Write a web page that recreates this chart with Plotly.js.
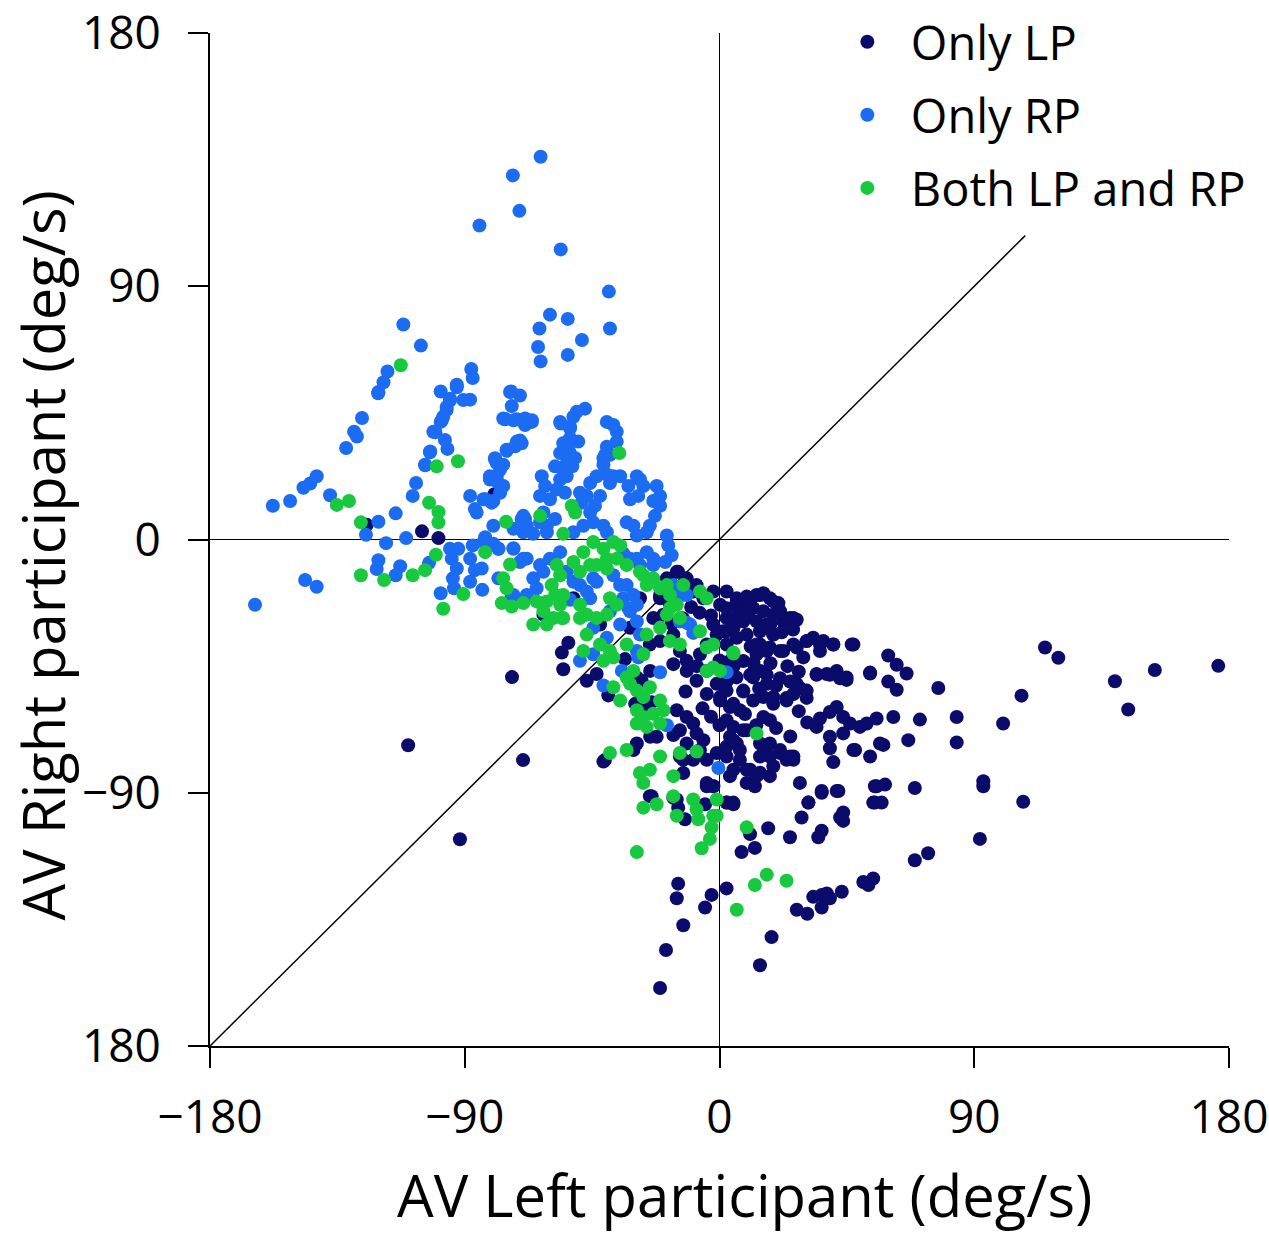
<!DOCTYPE html>
<html><head><meta charset="utf-8">
<script src="https://cdn.plot.ly/plotly-3.0.1.min.js"></script>
<style>html,body{margin:0;padding:0;background:#fff}</style>
</head><body><div id="chart" style="width:1269px;height:1240px"></div>
<script>
// ---- data: [AV left, AV right] in deg/s ----
const onlyLP = [
[-73.3,-48.9],[-110.0,-73.1],[-69.4,-78.4],[-91.7,-106.5],[-124.6,5.2],[-105.1,2.9],[-99.3,0.5],[-79.5,16.1],[-40.5,-78.4],
[-14.6,-11.5],[-11.6,-13.8],[-8.1,-16.2],[-18.6,-13.8],[-9.3,-18.5],[-51.6,-20.9],[-62.2,-26.7],[-42.2,-30.2],[-28.1,-20.9],[-21.0,-19.7],[-17.5,-23.2],[-23.4,-27.9],[-2.2,-18.5],[2.5,-18.5],[6.1,-22.0],[0.2,-23.2],[2.5,-27.9],[-2.2,-30.2],[4.9,-31.4],
[-24.0,-91.2],[-16.3,-91.8],[-14.6,-95.3],[-12.2,-99.4],[-5.1,-94.1],[-4.5,-87.7],[-2.2,-87.7],[2.5,-93.5],[4.9,-94.1],[9.6,-86.5],[12.5,-87.7],[10.8,-104.7],[7.8,-111.1],[12.5,-109.6],[17.2,-102.6],[24.9,-105.8],[29.0,-98.8],[31.4,-93.5],[36.1,-90.0],[42.0,-89.4],[36.1,-103.5],[34.9,-105.8],[42.6,-98.8],[43.7,-97.0],[43.7,-100.0],[54.9,-87.7],[58.5,-87.1],[54.3,-93.5],[57.3,-93.5],[69.0,-88.3],[69.0,-114.0],
[-14.6,-122.3],[-15.1,-127.5],[-2.8,-126.3],[-5.1,-130.8],[2.5,-124.0],[-12.8,-137.1],[-18.9,-145.9],[-21.0,-159.4],[18.4,-141.3],[14.3,-151.3],[27.3,-131.6],[31.0,-133.0],[33.1,-127.0],[36.1,-126.3],[37.9,-125.8],[39.0,-127.5],[36.1,-130.8],[43.2,-125.2],[50.8,-121.7],[54.3,-120.5],[52.6,-122.8],[73.7,-111.5],
[93.2,-85.9],[93.2,-87.7],[107.3,-93.2],[92.0,-106.4],
[6.1,-20.9],[9.6,-20.3],[13.1,-19.7],[15.5,-19.1],[17.8,-20.9],[20.8,-22.6],[24.9,-27.9],[27.3,-28.5],
[2.5,-24.4],[7.2,-24.4],[11.9,-24.4],[15.5,-25.5],[19.0,-26.7],[22.5,-29.1],[8.4,-29.1],[13.1,-29.1],[16.7,-30.2],[2.5,-32.6],[6.1,-34.9],[9.6,-33.8],[14.3,-32.6],[19.0,-33.8],
[14.3,-37.3],[17.8,-38.4],[22.5,-39.6],[27.3,-38.4],[30.8,-36.1],[33.1,-34.9],[36.7,-36.1],[40.2,-37.3],[47.3,-37.3],[29.6,-41.9],[35.5,-39.6],
[1.3,-32.6],[3.7,-43.2],[8.4,-43.2],[13.1,-40.8],[2.5,-50.5],[8.4,-54.0],[10.8,-48.1],[16.7,-48.1],[21.4,-49.3],[24.9,-50.5],[28.4,-52.8],[23.7,-56.3],[30.8,-56.3],[34.3,-48.1],[39.0,-48.1],[42.6,-49.3],[44.9,-49.9],[53.2,-47.6],[59.6,-41.2],[62.6,-44.5],[66.1,-47.6],[59.6,-50.5],[62.6,-53.4],[77.3,-52.8],[106.7,-55.5],[115.0,-38.4],[119.7,-42.0],[139.7,-50.4],[144.4,-60.4],[153.8,-46.4],[176.2,-44.9],
[0.2,-56.0],[3.7,-59.5],[7.2,-60.7],[11.9,-57.2],[15.5,-56.0],[19.0,-58.4],[15.5,-63.1],[17.8,-64.2],[2.5,-64.2],[4.9,-66.6],[9.6,-67.8],[3.7,-70.1],[6.1,-72.5],[2.5,-77.1],[7.2,-78.3],[16.7,-73.6],[17.8,-77.1],[21.4,-75.9],[24.9,-77.1],[26.1,-78.3],[10.8,-81.8],[14.3,-82.9],[17.8,-84.1],[3.7,-84.1],[11.9,-86.5],
[34.3,-66.6],[35.5,-63.6],[39.0,-61.3],[41.4,-59.5],[43.7,-63.1],[46.1,-65.4],[49.6,-66.6],[52.0,-65.4],[55.5,-63.6],[61.4,-63.1],[70.8,-64.0],[83.8,-63.1],[100.2,-65.4],[39.0,-70.1],[39.0,-74.2],[43.7,-68.9],[47.9,-74.8],[57.9,-73.0],[66.7,-71.3],[83.8,-72.1],[40.2,-79.1],
[-53.4,-36.7],[-55.7,-40.2],[-55.2,-46.1],[-46.9,-50.2],[-43.4,-47.8],[-39.3,-55.4],
[-31.6,-31.4],[-33.4,-42.5],[-29.2,-49.0],[-27.5,-50.2],[-24.5,-46.7],[-29.8,-58.4],[-26.3,-60.7],[-24.0,-57.8],
[-19.8,-26.7],[-21.0,-20.9],[-17.5,-15.0],[-15.1,-11.5],[-5.7,-20.9],
[-24.6,-37.3],[-21.0,-36.1],[-16.3,-33.8],[-14.0,-39.6],[-11.6,-43.1],[-6.9,-40.8],[-4.5,-37.3],[-1.0,-33.8],[2.5,-37.3],[4.9,-31.4],[7.2,-25.5],[10.8,-22.0],[14.3,-19.7],[19.0,-22.0],[21.4,-25.5],[26.1,-27.9],[15.5,-31.4],[19.0,-33.8],[13.1,-37.3],[16.7,-39.6],[21.4,-39.6],[26.1,-37.3],[30.8,-36.1],[35.5,-37.3],[40.2,-37.3],[46.7,-37.3],
[-16.3,-44.3],[-11.6,-46.7],[-8.1,-50.2],[-4.5,-46.7],[-1.0,-51.3],[-4.5,-54.9],[0.2,-57.2],[2.5,-53.7],[4.9,-58.4],[8.4,-53.7],[11.9,-49.0],[14.3,-46.7],[16.7,-51.3],[19.0,-56.0],[23.7,-57.2],[26.1,-54.9],[27.3,-51.3],[30.8,-53.7],[34.3,-47.8],[37.9,-47.8],[41.4,-46.7],[44.9,-49.0],[53.2,-47.3],
[-15.1,-60.7],[-11.6,-63.1],[-9.3,-65.4],[-8.1,-68.9],[-5.7,-71.3],[-14.0,-67.8],[-11.6,-72.5],[-6.9,-74.8],[-9.3,-78.3],[-12.8,-78.3],[-4.5,-78.3],[-1.0,-75.9],[2.5,-73.6],[4.9,-71.3],[8.4,-67.8],[7.2,-74.8],[14.3,-72.5],[17.8,-72.5],[21.4,-74.8],[26.1,-77.1],[23.7,-78.3],[19.0,-80.6],[14.3,-77.1],[9.6,-81.8],[4.9,-81.8],[13.1,-84.1],
[-41.0,-78.9],[-29.2,-72.5],[-30.4,-74.8],[-24.5,-70.1],[-22.2,-70.1],[-16.3,-69.5],[-14.0,-77.1],[-12.8,-83.0],[-4.5,-86.5],[-2.2,-87.7],[2.5,-93.5],[4.9,-93.5],[-24.6,-91.2],[-15.1,-92.4],
[28.4,-86.5],[31.4,-93.5],[36.1,-89.4],[41.4,-89.4],[47.3,-74.8],[53.2,-77.1],[56.7,-72.5],[55.5,-87.7],[54.9,-93.5],
[5.0,-28.0],[10.0,-27.0],[18.0,-30.0],[22.0,-33.0],[26.0,-32.0],[11.0,-38.0],[5.0,-45.0],[12.0,-44.0],[18.0,-44.0],[24.0,-45.0],[28.0,-47.0],[20.0,-52.0],[14.0,-53.0],[6.0,-49.0],[0.0,-43.0],
[-3.0,-27.0],[-7.0,-26.0],[-10.0,-24.0],[-13.0,-28.0],[-17.0,-30.0],[-8.0,-45.0],[-12.0,-54.0],[-6.0,-60.0],[0.0,-66.0],[-3.0,-63.0],[9.0,-62.0],[13.0,-66.0],[20.0,-67.0],[28.0,-61.0],[31.0,-65.0],[25.0,-70.0]
];
const onlyRP = [
[-63.2,136.0],[-73.0,129.4],[-70.7,116.8],[-84.8,111.6],[-56.1,103.1],[-39.1,88.1],[-59.9,79.9],[-53.6,78.4],[-63.6,75.0],[-38.7,75.0],[-48.6,70.9],[-64.1,68.4],[-53.6,65.6],[-63.2,63.3],
[-111.7,76.4],[-105.5,68.9],[-117.3,59.7],[-118.7,55.9],[-120.6,52.0],[-126.3,43.2],[-129.1,38.3],[-128.1,36.6],[-131.9,32.5],
[-87.7,60.6],[-87.2,57.4],[-92.8,55.0],[-98.5,52.6],[-95.2,49.5],[-90.5,49.6],[-88.1,49.7],[-96.4,46.0],[-97.6,43.6],[-98.5,41.8],[-100.4,38.1],[-97.0,35.4],[-96.1,32.2],[-102.2,31.3],[-104.0,26.6],
[-73.6,52.6],[-70.5,51.2],[-73.4,47.4],[-75.8,42.7],[-71.6,42.7],[-69.3,41.8],[-66.3,41.8],[-68.7,40.7],[-70.5,35.2],[-72.2,33.1],[-75.2,31.5],[-79.3,28.4],
[-47.5,46.5],[-50.4,45.4],[-51.6,43.6],[-56.1,41.2],[-52.8,39.5],[-49.9,34.8],[-55.0,34.0],[-53.0,31.0],[-51.0,29.0],[-54.0,27.0],[-52.0,26.0],
[-39.8,41.8],[-37.5,40.7],[-36.3,38.3],[-36.3,34.8],[-39.8,33.0],[-38.7,30.1],[-41.0,28.9],
[-164.1,-23.2],[-157.8,12.0],[-151.7,13.7],[-147.0,18.4],[-144.6,19.9],[-142.3,22.5],[-137.6,15.7],[-120.5,6.3],[-124.9,1.7],[-114.4,9.3],[-117.8,-1.3],[-110.7,0.5],[-108.4,15.5],[-107.2,20.1],[-104.0,26.4],[-102.3,31.0],
[-120.5,-7.4],[-121.1,-10.5],[-112.8,-9.5],[-114.4,-12.7],[-102.6,-8.3],[-146.4,-14.4],[-142.3,-16.8],[-98.5,-19.1],
[-95.2,-3.3],[-92.3,-3.3],[-94.6,-6.8],[-92.8,-10.3],[-94.2,-13.8],[-93.8,-17.3],[-88.1,-6.8],[-86.4,-10.9],[-88.1,-15.0],[-84.0,-10.3],[-83.8,-17.9],[-87.2,-2.1],[-83.4,-0.9],[-79.9,-1.5],[-78.1,-3.3],[-82.8,0.8],[-72.8,-3.1],[-69.3,-6.8],[-68.7,7.3],[-78.1,-13.8],[-73.4,-20.3],
[-88.1,15.5],[-86.4,10.8],[-85.8,9.6],[-83.4,14.3],[-79.9,13.7],[-81.1,21.3],[-78.7,22.5],[-77.5,24.9],[-76.4,19.0],[-78.7,27.2],[-79.3,28.9],[-75.2,31.9],[-71.6,34.8],[-69.9,34.2],[-76.4,43.0],[-72.8,42.4],[-74.0,52.4],
[-101.1,38.3],[-98.1,42.4],[-96.4,47.1],[-95.2,50.0],[-120.5,52.4],[-92.8,54.1],[-69.9,7.3],[-69.3,2.6],[-72.8,3.8],
[-75.8,42.8],[-68.7,43.0],[-66.3,42.4],[-76.4,26.6],[-81.1,22.5],[-78.1,20.1],[-77.5,16.6],[-82.8,14.3],[-80.5,13.1],
[-56.3,41.8],[-52.8,40.1],[-55.2,34.2],[-52.8,36.0],[-56.3,30.7],[-53.4,31.9],[-58.1,26.0],[-55.2,24.9],[-56.3,21.3],[-54.0,22.5],[-57.5,17.8],[-54.6,16.6],[-62.8,22.5],[-61.6,19.0],[-63.4,15.5],[-59.9,14.3],
[-40.4,30.1],[-41.0,26.6],[-39.8,23.1],[-38.7,20.1],[-37.5,22.5],[-35.1,22.5],[-32.2,19.0],[-29.2,22.5],[-28.1,21.3],[-26.9,19.0],[-28.7,15.5],[-31.6,14.3],
[-22.2,19.0],[-21.0,15.5],[-21.0,12.0],[-23.4,13.7],[-22.8,8.4],[-24.6,4.9],
[-45.7,20.1],[-43.4,22.5],[-46.9,15.5],[-44.0,12.0],[-42.2,15.5],[-45.7,9.6],[-49.3,16.6],[-48.7,13.1],
[-62.2,9.6],[-61.0,4.9],[-58.1,7.3],[-63.4,6.1],[-69.3,8.4],[-68.1,4.9],[-65.8,2.0],[-61.0,2.6],
[-79.9,4.9],[-82.2,-0.9],[-78.1,-3.3],[-72.8,-3.3],[-68.1,-6.8],[-70.5,-8.0],
[-51.6,2.6],[-48.1,4.9],[-44.6,6.1],[-41.0,4.9],[-39.8,2.6],[-32.8,6.1],[-30.4,4.9],[-29.2,1.4],[-25.7,2.6],
[-18.6,1.4],[-18.1,-2.1],[-16.9,-5.6],[-19.2,-8.0],[-25.7,-4.5],[-23.4,-6.8],[-28.1,-9.1],[-31.6,-6.8],[-16.3,-16.2],[-13.4,-19.7],
[-56.3,-4.5],[-59.9,-6.8],[-63.4,-9.1],[-62.2,-11.5],[-65.8,-13.8],[-64.6,-17.3],[-68.1,-19.7],[-72.8,-19.7],
[-54.0,-11.5],[-51.6,-15.0],[-49.3,-16.2],[-46.9,-18.5],[-43.4,-15.0],[-45.7,-20.9],
[-37.5,-12.7],[-35.1,-16.2],[-32.8,-16.2],[-34.0,-20.9],[-30.4,-19.7],[-29.2,-23.2],[-38.7,-25.5],[-31.6,-25.5],[-35.1,-30.2],[-29.2,-29.1],
[-11.6,-19.7],[-14.0,-29.1],[-10.4,-30.2],
[-0.4,-81.2],[2.5,-47.2],[-18.6,-66.0],[-11.6,-29.6],[-9.3,-33.2],[-41.0,-51.9],[-49.3,-43.1],[-44.6,-40.8],[-34.5,-46.7],[-28.7,-41.9],[-52.8,-21.4],[-44.6,-13.8],[-32.2,-24.4],[-28.1,-33.8],[-44.6,-31.4],[-39.8,-34.9],[-29.2,-39.6],[-21.0,-47.2],[-34.0,-5.0],[-29.2,-6.8],[-23.4,-9.1]
];
const bothLPRP = [
[-112.6,61.9],[-99.9,26.0],[-92.4,27.8],[-35.4,30.7],[-135.2,12.3],[-130.9,13.7],[-126.7,6.1],[-102.6,13.1],[-99.3,9.8],[-99.3,6.1],
[-126.7,-12.7],[-118.5,-14.4],[-108.4,-12.7],[-104.0,-10.9],[-100.2,-5.4],[-97.6,-24.6],[-90.5,-19.4],[-82.8,-4.5],[-75.4,6.3],[-74.0,-8.9],[-76.4,-13.8],[-75.2,-17.3],[-76.9,-22.6],[-73.4,-23.8],[-69.3,-22.6],
[-63.4,8.4],[-52.2,12.0],[-51.0,9.6],[-55.2,2.0],[-44.6,-0.9],[-41.0,-3.3],[-37.5,-0.9],[-35.1,-2.1],[-39.8,-6.8],[-28.1,-11.5],[-23.4,-13.8],[-25.7,-16.2],[-21.0,-17.3],[-18.6,-16.2],
[-57.5,-9.1],[-56.3,-12.7],[-59.3,-16.2],[-58.1,-19.7],[-61.0,-22.0],[-64.6,-22.0],[-56.3,-23.2],[-62.2,-25.5],[-58.7,-27.9],[-65.8,-30.2],[-61.0,-30.2],[-55.2,-27.9],
[-51.6,-8.0],[-48.1,-4.5],[-45.7,-9.1],[-49.3,-11.5],[-49.3,-23.2],[-46.9,-26.7],[-43.4,-27.9],[-39.8,-26.7],[-38.7,-20.9],[-36.3,-23.2],[-18.6,-26.7],[-15.1,-23.2],[-14.0,-27.9],[-6.9,-18.5],[-4.5,-20.9],
[-43.4,-9.1],[-39.8,-10.3],[-36.3,-6.8],[-32.8,-9.1],[-26.9,-12.7],[-17.5,-19.7],[-12.8,-16.2],
[-55.2,-19.7],[-55.7,-27.9],[-49.3,-27.9],[-46.9,-33.8],[-48.1,-39.6],[-42.2,-37.3],[-38.7,-39.6],[-41.0,-43.1],[-37.5,-41.9],[-32.8,-37.3],[-26.9,-40.8],[-25.7,-33.8],[-21.0,-31.4],[-17.5,-36.1],[-14.0,-37.3],[-17.5,-24.4],[-6.9,-32.6],[-4.5,-38.4],[-2.2,-37.3],[4.9,-40.2],[0.2,-46.7],
[-37.5,-52.5],[-35.1,-57.2],[-32.8,-49.0],[-30.4,-46.7],[-31.6,-51.3],[-29.2,-53.7],[-26.9,-56.0],[-24.6,-52.5],[-21.0,-57.2],[-19.8,-60.7],[-23.4,-61.9],[-26.9,-63.1],[-29.2,-60.7],[-21.0,-65.4],[-29.2,-65.4],[-25.7,-66.6],[-4.5,-46.7],[-2.2,-45.5],[13.1,-68.9],
[-38.7,-75.9],[-32.8,-74.8],[-28.1,-83.0],[-24.6,-81.8],[-21.0,-77.1],[-16.3,-84.1],[-14.0,-75.9],[-8.1,-75.3],[-26.9,-86.5],[-26.9,-95.3],[-22.2,-94.1],[-16.3,-91.2],[-9.3,-92.4],[-8.1,-95.9],[-1.0,-92.4],[-2.2,-98.2],[-15.1,-98.2],
[-29.2,-111.1],[-7.5,-99.4],[-2.8,-102.3],[-3.4,-106.4],[-6.3,-109.7],[-1.0,-98.2],[9.6,-102.3],[12.5,-122.8],[16.7,-119.1],[23.7,-121.3],[6.1,-131.6],[4.9,-40.5]
];
const seriesNames = ['Only LP', 'Only RP', 'Both LP and RP'];
const seriesColors = ['#0b0b6b', '#1b6cf2', '#17c93f'];
const tickVals = [-180, -90, 0, 90, 180];
const xTickText = ['\u2212180', '\u221290', '0', '90', '180'];
const yTickText = ['180', '\u221290', '0', '90', '180'];
const xTitle = 'AV Left participant (deg/s)';
const yTitle = 'AV Right participant (deg/s)';
const identityLine = [-180, 108];   // y = x reference line extent
const axisRange = [-180, 180];

const FONT = 'Open Sans, Noto Sans, sans-serif';
const series = [onlyLP, onlyRP, bothLPRP];

const traces = [{
  x: identityLine, y: identityLine, mode: 'lines', type: 'scatter',
  line: {color: '#000', width: 1.5}, showlegend: false, hoverinfo: 'skip'
}];
series.forEach((pts, i) => {
  traces.push({
    type: 'scatter', mode: 'markers', name: seriesNames[i], legendgroup: 'g' + i,
    x: pts.map(p => p[0]), y: pts.map(p => p[1]),
    marker: {color: seriesColors[i], size: 14, line: {width: 0}}
  });
});

const axisCommon = {
  range: axisRange, showgrid: false, zeroline: true, zerolinecolor: '#000', zerolinewidth: 1.5,
  showline: true, linecolor: '#000', linewidth: 2, ticks: 'outside', ticklen: 20, tickwidth: 2,
  tickcolor: '#000', tickvals: tickVals, tickfont: {family: FONT, size: 46, color: '#000'},
  ticklabeloverflow: 'allow', automargin: false, fixedrange: true
};

const layout = {
  width: 1269, height: 1240,
  margin: {l: 210, r: 40, t: 33, b: 194, autoexpand: false},
  paper_bgcolor: '#fff', plot_bgcolor: '#fff',
  font: {family: FONT, color: '#000'},
  showlegend: true,
  legend: {x: 0.6024, y: 1.028, xanchor: 'left', yanchor: 'top', bgcolor: 'rgba(0,0,0,0)',
           font: {family: FONT, size: 47, color: '#000'}, tracegroupgap: 9, itemwidth: 77},
  xaxis: Object.assign({}, axisCommon, {ticktext: xTickText, ticklabelstandoff: 10}),
  yaxis: Object.assign({}, axisCommon, {ticktext: yTickText, ticklabelstandoff: 18}),
  annotations: [
    {text: xTitle, xref: 'paper', yref: 'paper', x: 0.525, y: -0.1466, xanchor: 'center', yanchor: 'middle',
     showarrow: false, font: {family: FONT, size: 58, color: '#000'}},
    {text: yTitle, xref: 'paper', yref: 'paper', x: -0.1648, y: 0.4842, xanchor: 'center', yanchor: 'middle',
     textangle: -90, showarrow: false, font: {family: FONT, size: 58, color: '#000'}}
  ]
};

Plotly.newPlot('chart', traces, layout, {displayModeBar: false, staticPlot: true});
</script>
</body></html>
